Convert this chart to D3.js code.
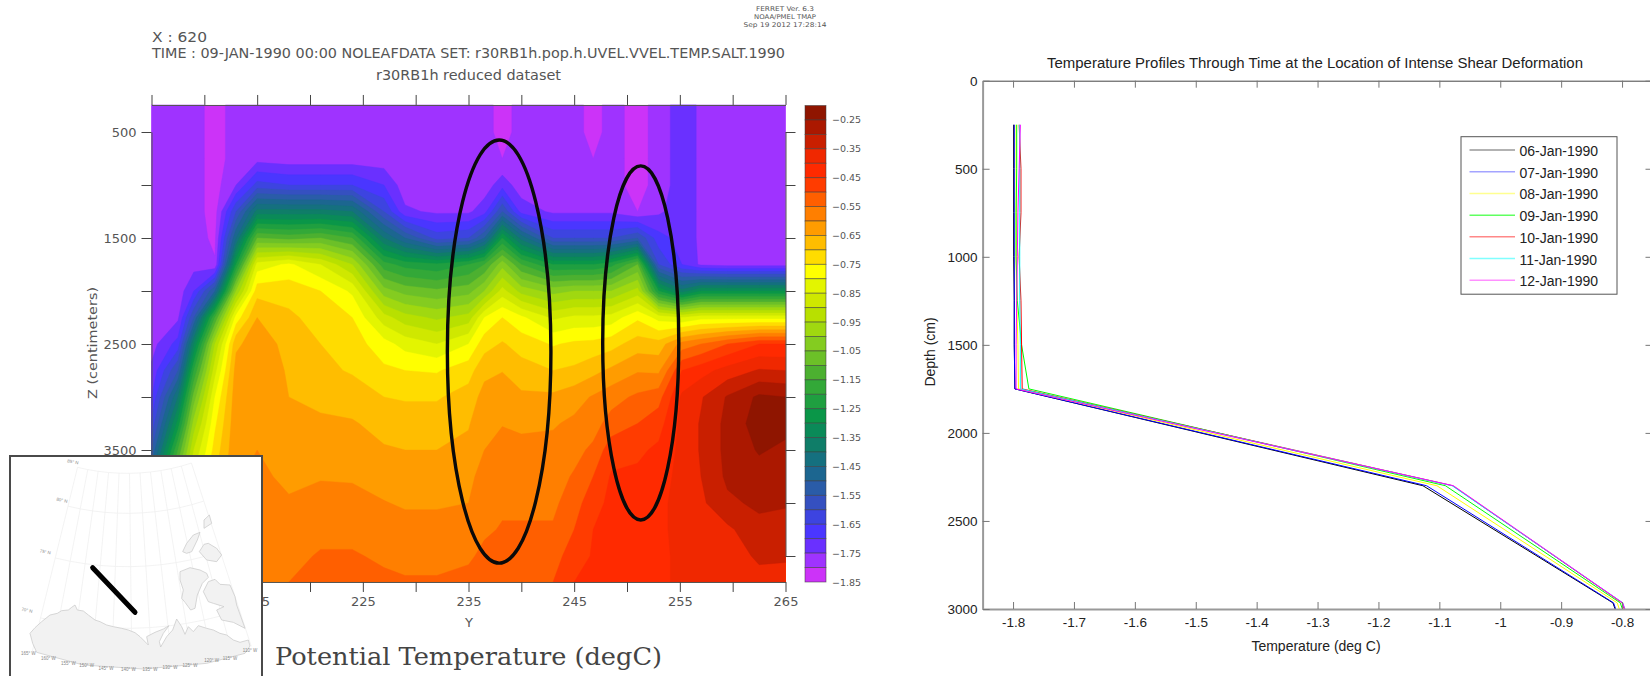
<!DOCTYPE html>
<html><head><meta charset="utf-8">
<script src="https://cdn.jsdelivr.net/npm/d3@7"></script>
<style>
html,body{margin:0;padding:0;background:#fff;overflow:hidden}
svg{display:block}
.fer text{font-family:"DejaVu Sans",sans-serif;fill:#555}
.mat text{font-family:"Liberation Sans",Arial,sans-serif;fill:#222}
</style></head><body>
<svg id="c" width="1650" height="676"></svg>
<script>
// ---------- left panel data ----------
const colY = [205,207.5,209,211,213,215,218,221,224,227,229,232,235,236.5,238.2,240,243,245,246.8,248.5,251,253,255.2,257,259.5,262.5,265];
const rowDepth = [245,500,750,1000,1250,1500,1750,2000,2250,2500,2750,3000,3250,3500,3750,4000,4250,4500,4745];
// one list per Y column, values top to bottom along rowDepth (deg C)
const tempByColumn = [
[-1.78,-1.78,-1.78,-1.78,-1.78,-1.78,-1.78,-1.78,-1.78,-1.77,-1.74,-1.7,-1.64,-1.55,-1.45,-1.35,-1.25,-1.15,-1.05],
[-1.78,-1.78,-1.78,-1.78,-1.78,-1.78,-1.78,-1.78,-1.76,-1.68,-1.55,-1.4,-1.28,-1.15,-1.05,-.95,-.88,-.82,-.78],
[-1.78,-1.78,-1.78,-1.78,-1.78,-1.78,-1.77,-1.7,-1.55,-1.35,-1.2,-1.08,-.98,-.9,-.84,-.8,-.76,-.72,-.7],
[-1.82,-1.82,-1.82,-1.82,-1.82,-1.81,-1.795,-1.5,-1.15,-.95,-.87,-.8,-.76,-.73,-.7,-.68,-.66,-.64,-.62],
[-1.78,-1.78,-1.78,-1.75,-1.6,-1.45,-1.25,-1.0,-.78,-.66,-.63,-.62,-.615,-.61,-.605,-.6,-.595,-.585,-.575],
[-1.78,-1.78,-1.77,-1.63,-1.38,-1.1,-.83,-.72,-.65,-.625,-.62,-.615,-.61,-.6,-.59,-.585,-.575,-.565,-.555],
[-1.78,-1.78,-1.78,-1.65,-1.38,-1.12,-.79,-.72,-.69,-.665,-.655,-.65,-.645,-.625,-.61,-.595,-.58,-.565,-.55],
[-1.78,-1.78,-1.78,-1.65,-1.38,-1.1,-.85,-.75,-.72,-.7,-.688,-.665,-.64,-.62,-.603,-.585,-.565,-.545,-.53],
[-1.78,-1.78,-1.78,-1.65,-1.4,-1.15,-.95,-.81,-.75,-.725,-.705,-.675,-.645,-.625,-.605,-.585,-.565,-.545,-.53],
[-1.78,-1.78,-1.78,-1.7,-1.6,-1.4,-1.18,-1.03,-.88,-.78,-.74,-.7,-.668,-.645,-.618,-.598,-.578,-.558,-.54],
[-1.78,-1.78,-1.78,-1.78,-1.74,-1.5,-1.22,-1.07,-.93,-.82,-.75,-.705,-.675,-.65,-.625,-.605,-.585,-.565,-.545],
[-1.78,-1.78,-1.78,-1.78,-1.76,-1.62,-1.24,-1.09,-.96,-.85,-.755,-.705,-.675,-.65,-.625,-.605,-.585,-.565,-.545],
[-1.78,-1.78,-1.78,-1.78,-1.76,-1.6,-1.2,-1.07,-.93,-.8,-.72,-.68,-.655,-.635,-.61,-.6,-.58,-.56,-.53],
[-1.78,-1.78,-1.78,-1.78,-1.72,-1.5,-1.15,-1.0,-.8,-.72,-.665,-.63,-.61,-.6,-.585,-.57,-.56,-.535,-.52],
[-1.82,-1.82,-1.8,-1.72,-1.55,-1.25,-1.02,-.88,-.75,-.695,-.652,-.62,-.602,-.585,-.572,-.56,-.545,-.53,-.51],
[-1.78,-1.78,-1.78,-1.78,-1.72,-1.42,-1.15,-.97,-.79,-.72,-.68,-.64,-.61,-.585,-.57,-.56,-.545,-.525,-.51],
[-1.78,-1.78,-1.78,-1.78,-1.76,-1.6,-1.25,-1.02,-.86,-.755,-.7,-.64,-.605,-.585,-.57,-.56,-.545,-.52,-.5],
[-1.78,-1.78,-1.78,-1.78,-1.76,-1.6,-1.25,-1.0,-.84,-.74,-.69,-.62,-.59,-.565,-.545,-.525,-.5,-.475,-.45],
[-1.82,-1.82,-1.8,-1.78,-1.76,-1.6,-1.25,-1.0,-.84,-.735,-.665,-.595,-.57,-.54,-.5,-.465,-.45,-.445,-.44],
[-1.78,-1.78,-1.78,-1.78,-1.76,-1.6,-1.22,-1.0,-.83,-.72,-.64,-.57,-.53,-.47,-.445,-.44,-.44,-.44,-.44],
[-1.82,-1.82,-1.82,-1.82,-1.8,-1.55,-1.1,-.93,-.76,-.675,-.605,-.54,-.5,-.46,-.44,-.43,-.43,-.43,-.43],
[-1.78,-1.78,-1.78,-1.78,-1.76,-1.68,-1.6,-1.25,-.82,-.68,-.61,-.52,-.47,-.44,-.42,-.41,-.41,-.41,-.41],
[-1.72,-1.72,-1.72,-1.72,-1.72,-1.72,-1.7,-1.38,-.85,-.58,-.45,-.39,-.385,-.385,-.385,-.385,-.385,-.39,-.39],
[-1.76,-1.76,-1.76,-1.76,-1.76,-1.76,-1.76,-1.3,-.82,-.55,-.42,-.355,-.345,-.345,-.35,-.36,-.37,-.38,-.385],
[-1.78,-1.78,-1.78,-1.78,-1.78,-1.78,-1.77,-1.3,-.82,-.5,-.38,-.295,-.285,-.285,-.29,-.31,-.36,-.38,-.385],
[-1.78,-1.78,-1.78,-1.78,-1.78,-1.78,-1.77,-1.3,-.82,-.45,-.345,-.24,-.225,-.245,-.27,-.29,-.315,-.34,-.37],
[-1.78,-1.78,-1.78,-1.78,-1.78,-1.78,-1.77,-1.3,-.82,-.45,-.35,-.25,-.235,-.26,-.275,-.295,-.32,-.345,-.365]
];
// colour bar, warm end first
const levelColors = ['#8f1500','#ab1800','#c91f00','#f02800','#ff2a00','#ff3c00','#ff5f00','#ff7f00','#ff9c00','#ffbd00','#ffdc00','#ffff00','#e3f500','#cfe800','#b8e000','#a0d810','#84cc20','#6cc028','#4cb030','#33a838','#1f9f40','#0a9648','#0a8a58','#0f7d68','#15707f','#1c6690','#2a5ca8','#3550c0','#3d44e0','#4a36ff','#6a30ff','#9f33ff','#cc33f8'];
const levelTop = -0.20, levelStep = 0.05;
const barLabels = ['-0.25','-0.35','-0.45','-0.55','-0.65','-0.75','-0.85','-0.95','-1.05','-1.15','-1.25','-1.35','-1.45','-1.55','-1.65','-1.75','-1.85'];
const depthTicks = [500,1000,1500,2000,2500,3000,3500,4000,4500];
const depthLabels = [500,1500,2500,3500,4500];
const yTicks = [205,210,215,220,225,230,235,240,245,250,255,260,265];
const yLabels = [205,215,225,235,245,255,265];
const ellipseCY = [237.9,251.3], ellipseRY = [4.9,3.6], ellipseCD = [2571,2490], ellipseRD = [1996,1670];
// inset map, in the map's own units
const landShapes = [
 [[90,565],[105,548],[125,530],[150,510],[172,505],[185,497],[205,495],[215,487],[225,480],[232,495],[250,498],[265,510],[285,525],[300,530],[320,540],[340,545],[365,550],[385,555],[405,563],[420,575],[445,600],[440,575],[465,562],[490,552],[507,542],[490,565],[478,590],[482,606],[500,575],[518,555],[530,522],[545,545],[555,568],[565,545],[580,560],[595,542],[620,550],[640,555],[660,565],[680,570],[700,585],[720,592],[745,585],[750,603],[735,625],[620,655],[430,672],[250,660],[110,622],[98,595]],
 [[540,380],[570,368],[600,375],[620,385],[625,397],[607,415],[592,450],[585,490],[572,495],[555,472],[545,460],[550,435],[540,405]],
 [[610,440],[625,410],[645,403],[660,418],[690,420],[705,455],[710,480],[735,550],[700,532],[665,525],[650,495],[672,485],[640,475],[625,470]],
 [[548,320],[560,295],[580,270],[600,262],[592,285],[575,320],[560,325]],
 [[598,320],[612,298],[625,295],[650,310],[665,330],[650,350],[620,345]],
 [[612,225],[628,210],[635,235],[612,250]]
];
const trackLine = [[278,368],[405,502]];
const latRadii = [[85,622],[80,742],[75,902],[70,1087],[65.5,1200]];
const lonLines = [-165,-160,-155,-150,-145,-140,-135,-130,-125,-120,-115,-110];
const latLabels = [['85° N',218,55],['80° N',185,170],['75° N',135,325],['70° N',80,500]];
const lonLabelPos = [[85,630],[145,645],[205,660],[260,667],[318,675],[385,677],[450,677],[510,672],[570,665],[635,652],[690,645],[750,622]];

// ---------- right panel data ----------
const dates = ['06-Jan-1990','07-Jan-1990','08-Jan-1990','09-Jan-1990','10-Jan-1990','11-Jan-1990','12-Jan-1990'];
const lineColors = ['#000000','#0000ff','#ffff00','#00ff00','#ff0000','#00ffff','#ff00ff'];
const legendColors = ['#999999','#a4a4ff','#ffff90','#60ff60','#ff8888','#80ffff','#ff90ff'];
const profDepth = [250,500,750,1000,1250,1500,1750,2300,2965,3300];
const prof06 = [-1.799,-1.799,-1.799,-1.799,-1.798,-1.798,-1.797,-1.127,-.815,-.781];
const prof07 = [-1.798,-1.798,-1.798,-1.798,-1.798,-1.798,-1.797,-1.121,-.814,-.78];
const prof08 = [-1.795,-1.795,-1.795,-1.795,-1.794,-1.792,-1.791,-1.104,-.808,-.774];
const prof09 = [-1.794,-1.794,-1.795,-1.795,-1.793,-1.786,-1.774,-1.09,-.803,-.769];
const prof10 = [-1.79,-1.787,-1.787,-1.79,-1.787,-1.786,-1.785,-1.078,-.8,-.766];
const prof11 = [-1.789,-1.789,-1.789,-1.789,-1.789,-1.788,-1.788,-1.079,-.799,-.765];
const prof12 = [-1.788,-1.79,-1.792,-1.793,-1.794,-1.795,-1.795,-1.077,-.799,-.765];
const tempTicks = [-1.8,-1.7,-1.6,-1.5,-1.4,-1.3,-1.2,-1.1,-1,-.9,-.8];
const profDepthTicks = [0,500,1000,1500,2000,2500,3000];

// ---------- drawing ----------
const svg = d3.select('#c');
const fer = svg.append('g').attr('class','fer');
const x = d3.scaleLinear().domain([205,265]).range([151.5,785.5]);
const y = d3.scaleLinear().domain([500,4500]).range([132,556]);
const plotTop = y(245), plotBot = y(4745);

const gx = d3.scaleLinear().domain(colY.map((_,i)=>i+0.5)).range(colY).clamp(true);
const gy = d3.scaleLinear().domain(rowDepth.map((_,i)=>i+0.5)).range(rowDepth).clamp(true);
const nx = colY.length, ny = rowDepth.length;
const flat = [];
for (let j=0;j<ny;j++) for (let i=0;i<nx;i++) flat.push(tempByColumn[i][j]);
const bandCount = levelColors.length;
const thresholds = d3.range(bandCount-1).map(i=>+(levelTop-levelStep*(bandCount-1-i)).toFixed(2));
const colorOf = t => levelColors[Math.round((levelTop-levelStep-t)/levelStep)];
const contours = d3.contours().size([nx,ny]).thresholds(thresholds)(flat);
const proj = d3.geoTransform({point(a,b){this.stream.point(x(gx(a)),y(gy(b)));}});
const gp = d3.geoPath(proj);
fer.append('rect').attr('x',x(205)).attr('y',plotTop).attr('width',x(265)-x(205)).attr('height',plotBot-plotTop).attr('fill',levelColors[bandCount-1]);
fer.append('g').selectAll('path').data(contours).join('path').attr('d',gp).attr('fill',d=>colorOf(d.value)).attr('stroke',d=>colorOf(d.value)).attr('stroke-width',.4);

const styleAxis = (g,col='#444')=>{g.selectAll('path,line').attr('stroke',col).attr('stroke-width',1);g.select('.domain').attr('stroke','#555');g.selectAll('text').attr('font-size',13).attr('font-family','"DejaVu Sans",sans-serif').attr('fill','#555');};
fer.append('g').attr('transform',`translate(${x(205)},0)`).call(d3.axisLeft(y).tickValues(depthTicks).tickSizeInner(10).tickSizeOuter(0).tickPadding(5).tickFormat(d=>depthLabels.includes(d)?d:'')).call(styleAxis);
fer.append('g').attr('transform',`translate(${x(265)},0)`).call(d3.axisRight(y).tickValues(depthTicks).tickSizeInner(10).tickSizeOuter(0).tickFormat('')).call(styleAxis);
fer.append('g').attr('transform',`translate(0,${plotTop})`).call(d3.axisTop(x).tickValues(yTicks).tickSizeInner(10).tickSizeOuter(0).tickFormat('')).call(styleAxis);
fer.append('g').attr('transform',`translate(0,${plotBot})`).call(d3.axisBottom(x).tickValues(yTicks).tickSizeInner(10).tickSizeOuter(0).tickPadding(5).tickFormat(d=>yLabels.includes(d)?d:'')).call(styleAxis);

fer.append('g').selectAll('ellipse').data(ellipseCY).join('ellipse')
 .attr('cx',d=>x(d)).attr('cy',(d,i)=>y(ellipseCD[i]))
 .attr('rx',(d,i)=>x(d+ellipseRY[i])-x(d)).attr('ry',(d,i)=>y(ellipseCD[i]+ellipseRD[i])-y(ellipseCD[i]))
 .attr('fill','none').attr('stroke','#0a0a0a').attr('stroke-width',3.4);

const barVal = d3.scaleLinear().domain([-1.85,-0.20]).range([582,105.5]);
const barX = 805, barW = 21;
fer.append('g').selectAll('rect').data(levelColors).join('rect')
 .attr('x',barX).attr('width',barW)
 .attr('y',(d,i)=>barVal(levelTop-levelStep*i)).attr('height',(d,i)=>barVal(levelTop-levelStep*(i+1))-barVal(levelTop-levelStep*i))
 .attr('fill',d=>d).attr('stroke','#3a3a3a').attr('stroke-opacity',.65).attr('stroke-width',.8);
fer.append('g').selectAll('text').data(barLabels).join('text')
 .attr('x',832).attr('y',d=>barVal(+d)+3.5).attr('font-size',9.5).text(d=>d.replace('-','−'));

const hdr = (t,xp,yp,fs,len,anchor='start')=>fer.append('text').attr('x',xp).attr('y',yp).attr('font-size',fs).attr('text-anchor',anchor).attr('textLength',len).attr('lengthAdjust','spacingAndGlyphs').text(t);
hdr('X : 620',152,42,14,55);
hdr('TIME : 09-JAN-1990 00:00 NOLEAFDATA SET: r30RB1h.pop.h.UVEL.VVEL.TEMP.SALT.1990',152,58,14,633);
hdr('r30RB1h reduced dataset',376,80,14,185);
hdr('FERRET Ver. 6.3',785,10.5,6.5,58,'middle');
hdr('NOAA/PMEL TMAP',785,18.5,6.5,62,'middle');
hdr('Sep 19 2012 17:28:14',785,26.5,6.5,83,'middle');
fer.append('text').attr('x',469).attr('y',627).attr('text-anchor','middle').attr('font-size',13).text('Y');
fer.append('text').attr('transform','translate(97,343) rotate(-90)').attr('text-anchor','middle').attr('font-size',13).attr('textLength',112).attr('lengthAdjust','spacingAndGlyphs').text('Z (centimeters)');
fer.append('text').attr('x',275).attr('y',665).attr('font-size',24).attr('textLength',387).attr('lengthAdjust','spacingAndGlyphs').attr('style','font-family:"DejaVu Serif",serif;fill:#444').text('Potential Temperature (degC)');

// inset map
const inset = svg.append('g');
inset.append('rect').attr('x',10).attr('y',456).attr('width',252).attr('height',224).attr('fill','#fff').attr('stroke','#4a4a4a').attr('stroke-width',2);
const mx = d3.scaleLinear().domain([0,810]).range([0,270]);
const my = d3.scaleLinear().domain([0,693]).range([445,676]);
const mapLine = d3.line().x(d=>mx(d[0])).y(d=>my(d[1]));
const apex = [381,-537];
const polar = (r,lon)=>{const a=(lon+141.2)*0.58*Math.PI/180;return [apex[0]+r*Math.sin(a),apex[1]+r*Math.cos(a)];};
const gridG = inset.append('g').attr('fill','none').attr('stroke','#f0f0f0').attr('stroke-width',.8);
latRadii.slice(0,4).forEach(([,r])=>gridG.append('path').attr('d',mapLine(d3.range(lonLines[0],lonLines[11]+1,5).map(l=>polar(r,l)))));
lonLines.forEach(l=>gridG.append('path').attr('d',mapLine([polar(latRadii[0][1],l),polar(latRadii[4][1],l)])));
inset.append('g').selectAll('path').data(landShapes).join('path').attr('d',d=>mapLine(d)+'Z').attr('fill','#f2f2f2').attr('stroke','#cdcdcd').attr('stroke-width',.8);
inset.append('path').attr('d',mapLine(trackLine)).attr('stroke','#000').attr('stroke-width',5).attr('stroke-linecap','round').attr('fill','none');
inset.append('g').selectAll('text').data(latLabels).join('text').attr('x',d=>mx(d[1])).attr('y',d=>my(d[2])).attr('font-size',4.5).attr('text-anchor','middle').attr('fill','#888').attr('font-family','"Liberation Sans",sans-serif').attr('transform',d=>`rotate(12 ${mx(d[1])} ${my(d[2])})`).text(d=>d[0]);
inset.append('g').selectAll('text').data(lonLines).join('text').attr('x',(d,i)=>mx(lonLabelPos[i][0])).attr('y',(d,i)=>my(lonLabelPos[i][1])).attr('font-size',4.5).attr('text-anchor','middle').attr('fill','#888').attr('font-family','"Liberation Sans",sans-serif').text(d=>`${-d}° W`);

// right panel
const mat = svg.append('g').attr('class','mat');
const xr = d3.scaleLinear().domain([-1.85,-0.75]).range([982.6,1652.5]);
const yr = d3.scaleLinear().domain([0,3000]).range([80.7,609]);
svg.append('defs').append('clipPath').attr('id','rc').append('rect').attr('x',xr(-1.85)).attr('y',yr(0)).attr('width',xr(-.75)-xr(-1.85)).attr('height',yr(3000)-yr(0));
const profs = [prof06,prof07,prof08,prof09,prof10,prof11,prof12];
const pl = d3.line().x(d=>xr(d[1])).y(d=>yr(d[0]));
mat.append('g').attr('clip-path','url(#rc)').selectAll('path').data(profs).join('path')
 .attr('d',p=>pl(p.map((v,i)=>[profDepth[i],v]))).attr('fill','none').attr('stroke',(d,i)=>lineColors[i]).attr('stroke-width',1);
const styleR = (g,dom='#999',w=2)=>{g.selectAll('line').attr('stroke','#777').attr('stroke-width',1);g.select('.domain').attr('stroke',dom).attr('stroke-width',w);g.selectAll('text').attr('font-size',13.5).attr('font-family','"Liberation Sans",Arial,sans-serif').attr('fill','#222');};
const fmt = d=>String(d);
mat.append('g').attr('transform',`translate(0,${yr(3000)})`).call(d3.axisBottom(xr).tickValues(tempTicks).tickSizeInner(-7).tickSizeOuter(0).tickPadding(8).tickFormat(fmt)).call(styleR);
mat.append('g').attr('transform',`translate(0,${yr(0)})`).call(d3.axisTop(xr).tickValues(tempTicks).tickSizeInner(-7).tickSizeOuter(0).tickFormat('')).call(g=>styleR(g,'#444',1));
mat.append('g').attr('transform',`translate(${xr(-1.85)},0)`).call(d3.axisLeft(yr).tickValues(profDepthTicks).tickSizeInner(-7).tickSizeOuter(0).tickPadding(5).tickFormat(fmt)).call(styleR);
mat.append('g').attr('transform',`translate(${xr(-.75)},0)`).call(d3.axisRight(yr).tickValues(profDepthTicks).tickSizeInner(-7).tickSizeOuter(0).tickFormat('')).call(g=>styleR(g,'#444',1));
mat.append('text').attr('x',1315).attr('y',68).attr('text-anchor','middle').attr('font-size',14).attr('textLength',536).attr('lengthAdjust','spacingAndGlyphs').text('Temperature Profiles Through Time at the Location of Intense Shear Deformation');
mat.append('text').attr('x',1316).attr('y',651).attr('text-anchor','middle').attr('font-size',14).text('Temperature (deg C)');
mat.append('text').attr('transform','translate(935,352) rotate(-90)').attr('text-anchor','middle').attr('font-size',14).text('Depth (cm)');
const legY = d3.scalePoint().domain(dates).range([150,280.3]);
mat.append('rect').attr('x',1461).attr('y',136.7).attr('width',156).attr('height',157.5).attr('fill','#fff').attr('stroke','#555').attr('stroke-width',1);
const lg = mat.append('g').selectAll('g').data(dates).join('g');
lg.append('line').attr('x1',1469.5).attr('x2',1515).attr('y1',d=>legY(d)).attr('y2',d=>legY(d)).attr('stroke',(d,i)=>legendColors[i]).attr('stroke-width',1.5);
lg.append('text').attr('x',1519.5).attr('y',d=>legY(d)+6).attr('font-size',14).text(d=>d);
</script>
</body></html>
